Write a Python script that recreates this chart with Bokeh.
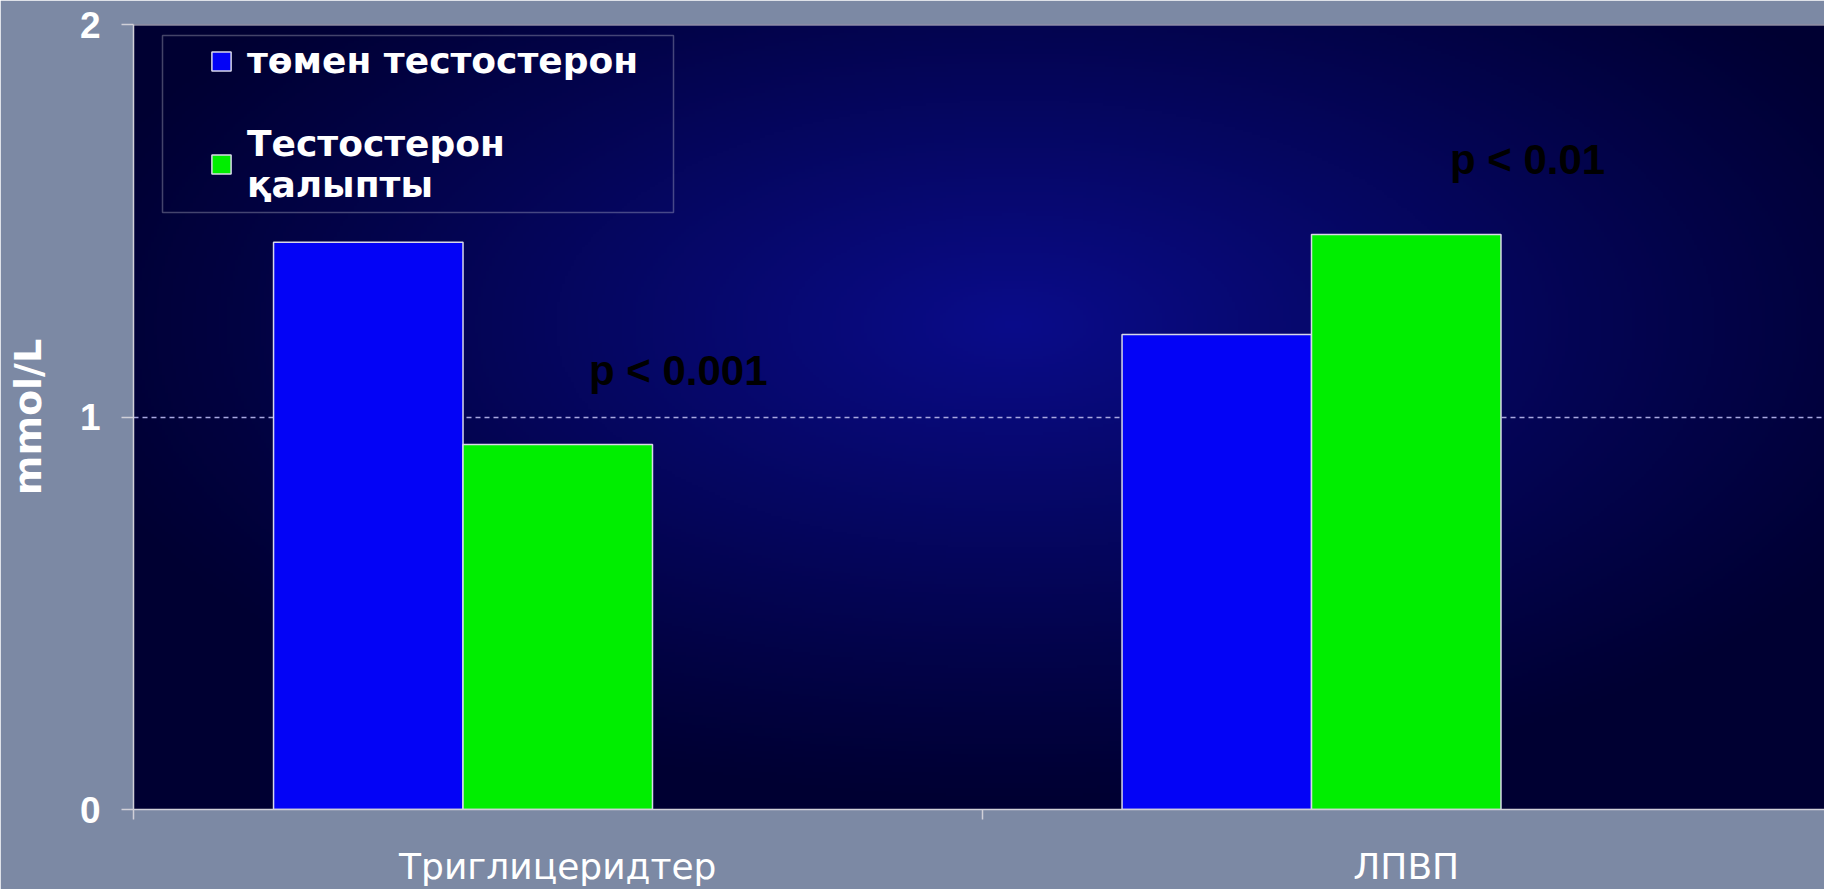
import numpy as np
from bokeh.plotting import figure
from bokeh.models import (ColumnDataSource, FixedTicker, Legend, LegendItem, Label,
                          Span, BoxAnnotation, Range1d)
from bokeh.embed import file_html
from bokeh.resources import INLINE

# ---------------- data ----------------
categories = ["Триглицеридтер", "ЛПВП"]
series_names = ["төмен тестостерон", "Тестостерон\nқалыпты"]
low_testosterone = [1.445, 1.21]
normal_testosterone = [0.93, 1.465]
series_colors = ["#0303f6", "#00ee00"]
p_labels = ["p < 0.001", "p < 0.01"]
p_label_x = [0.642, 1.643]
p_label_y = [1.118, 1.656]
y_ticks = [0, 1, 2]
y_label = "mmol/L"

# ---------------- layout ----------------
W, H = 1824, 889
BL, BT, BB, BR = 133, 24, 80, 0
frame_w, frame_h = W - BL - BR, H - BT - BB
unit_px = 848.5
x_end = frame_w / unit_px
bar_w = 0.2233

p = figure(width=W, height=H, output_backend="svg", toolbar_location=None,
           x_range=Range1d(0, x_end), y_range=Range1d(0, 2),
           min_border_left=BL, min_border_right=BR, min_border_top=BT, min_border_bottom=BB)
p.border_fill_color = "#7c89a4"
p.background_fill_color = "#000033"
p.outline_line_color = None

# background gradient of the plot area (decoration)
ny, nx = 300, 600
jj, ii = np.mgrid[0:ny, 0:nx]
sx = (ii + 0.5) / nx * frame_w
sy = (1 - (jj + 0.5) / ny) * frame_h
t = np.sqrt(((sx - 880) / 980) ** 2 + ((sy - 300) / 480) ** 2)
c = np.clip(1 - t, 0, 1) ** 1.1
edge = np.array([0, 0, 50])
center = np.array([10, 12, 138])
rgb = edge[None, None, :] + (center - edge)[None, None, :] * c[:, :, None]
img = np.empty((ny, nx), dtype=np.uint32)
view = img.view(dtype=np.uint8).reshape((ny, nx, 4))
view[:, :, 0] = rgb[:, :, 0].astype(np.uint8)
view[:, :, 1] = rgb[:, :, 1].astype(np.uint8)
view[:, :, 2] = rgb[:, :, 2].astype(np.uint8)
view[:, :, 3] = 255
p.image_rgba(image=[img], x=0, y=0, dw=x_end, dh=2, level="image")

# bars
centers = [i + 0.5 for i in range(len(categories))]
src = ColumnDataSource(dict(
    xb=[c0 - bar_w for c0 in centers], xg=centers,
    low=low_testosterone, normal=normal_testosterone, cat=categories))
r_low = p.vbar(x="xb", top="low", width=bar_w, source=src, fill_color=series_colors[0],
               line_color="#d8d8e8", line_width=1.5)
r_norm = p.vbar(x="xg", top="normal", width=bar_w, source=src, fill_color=series_colors[1],
                line_color="#d8d8e8", line_width=1.5)

# axes
p.yaxis.ticker = FixedTicker(ticks=y_ticks)
p.yaxis.axis_line_color = "#d0d0d8"
p.yaxis.axis_line_width = 1.5
p.yaxis.major_tick_line_color = "#d0d0d8"
p.yaxis.major_tick_line_width = 1.5
p.yaxis.major_tick_out = 12
p.yaxis.major_tick_in = 0
p.yaxis.minor_tick_line_color = None
p.yaxis.major_label_text_color = "white"
p.yaxis.major_label_text_font = "Liberation Sans"
p.yaxis.major_label_text_font_style = "bold"
p.yaxis.major_label_text_font_size = "37px"
p.yaxis.major_label_standoff = 21
p.yaxis.axis_label = y_label
p.yaxis.axis_label_text_color = "white"
p.yaxis.axis_label_text_font = "DejaVu Sans"
p.yaxis.axis_label_text_font_style = "bold"
p.yaxis.axis_label_text_font_size = "38px"
p.yaxis.axis_label_standoff = 27

p.xaxis.ticker = FixedTicker(ticks=centers, minor_ticks=[0, 1, 2])
p.xaxis.major_label_overrides = {c0: name for c0, name in zip(centers, categories)}
p.xaxis.axis_line_color = "#d0d0d8"
p.xaxis.axis_line_width = 1.5
p.xaxis.major_tick_line_color = None
p.xaxis.major_tick_out = 0
p.xaxis.major_tick_in = 0
p.xaxis.minor_tick_line_color = "#d0d0d8"
p.xaxis.minor_tick_line_width = 1.5
p.xaxis.minor_tick_out = 10
p.xaxis.minor_tick_in = 0
p.xaxis.major_label_text_color = "white"
p.xaxis.major_label_text_font = "DejaVu Sans"
p.xaxis.major_label_text_font_size = "36px"
p.xaxis.major_label_standoff = 26

p.xgrid.grid_line_color = None
p.ygrid.ticker = FixedTicker(ticks=[1])
p.ygrid.grid_line_color = "#a8a8e0"
p.ygrid.grid_line_dash = "5 4"
p.ygrid.grid_line_width = 1.5

p.add_layout(Span(location=2, dimension="width", line_color="#d0d0d8", line_width=2))

# p-value annotations
for txt, lx, ly in zip(p_labels, p_label_x, p_label_y):
    p.add_layout(Label(x=lx, y=ly, text=txt, text_align="center", text_baseline="alphabetic",
                       text_color="black", text_font="Liberation Sans", text_font_style="bold",
                       text_font_size="42px"))

# legend
legend = Legend(items=[LegendItem(label=series_names[0], renderers=[r_low]),
                       LegendItem(label=series_names[1], renderers=[r_norm])],
                location=(76, 604), padding=0, margin=0, spacing=42,
                glyph_width=24, glyph_height=24, label_standoff=14,
                border_line_color=None, background_fill_alpha=0,
                label_text_color="white", label_text_font="DejaVu Sans",
                label_text_font_style="bold", label_text_font_size="36px")
p.add_layout(legend)
p.add_layout(BoxAnnotation(left=(162 - BL) / unit_px, right=(673 - BL) / unit_px,
                           top=2 - (35 - BT) / 392.5, bottom=2 - (212 - BT) / 392.5,
                           fill_alpha=0, line_color="#e0e0e8", line_width=1.5))

open("out.html", "w").write(file_html(p, INLINE))
